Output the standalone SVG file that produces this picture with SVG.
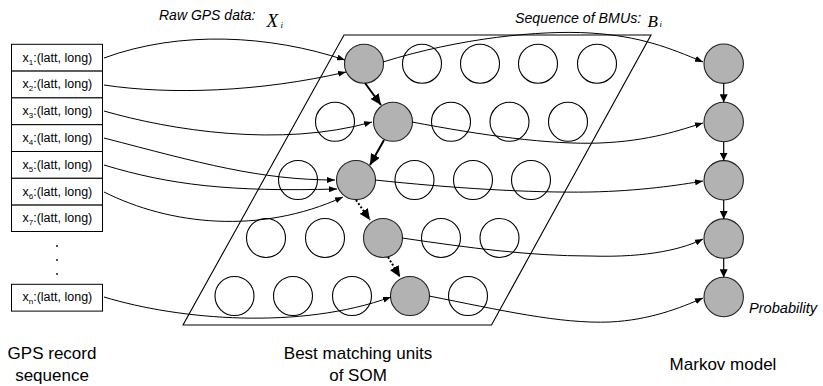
<svg xmlns="http://www.w3.org/2000/svg" width="823" height="386" viewBox="0 0 823 386">
  <defs>
    <marker id="tip" viewBox="0 0 8 6" refX="8" refY="3" markerWidth="8" markerHeight="6" markerUnits="userSpaceOnUse" orient="auto">
      <path d="M0,0 L8,3 L0,6 z" fill="#000"/>
    </marker>
    <marker id="tipBig" viewBox="0 0 11 10" refX="11" refY="5" markerWidth="11" markerHeight="10" markerUnits="userSpaceOnUse" orient="auto">
      <path d="M0,0 L11,5 L0,10 z" fill="#000"/>
    </marker>
    <marker id="tipDown" viewBox="0 0 8 8" refX="8" refY="4" markerWidth="8" markerHeight="8" markerUnits="userSpaceOnUse" orient="auto">
      <path d="M0,0 L8,4 L0,8 z" fill="#000"/>
    </marker>
  </defs>
  <style>
    .cell { fill: #fff; stroke: #000; stroke-width: 1; }
    .cellText { font-family: "Liberation Sans", Arial, sans-serif; font-size: 12.5px; fill: #000; }
    .sub { font-size: 8px; }
    .unit { fill: #fff; stroke: #000; stroke-width: 1.1; }
    .bmu { fill: #b2b2b2; stroke: #222; stroke-width: 1.1; }
    .frame { fill: none; stroke: #000; stroke-width: 1.1; }
    .wire { fill: none; stroke: #000; stroke-width: 1; marker-end: url(#tip); }
    .step { fill: none; stroke: #000; stroke-width: 2; marker-end: url(#tipBig); }
    .stepDot { fill: none; stroke: #000; stroke-width: 2; stroke-dasharray: 2 2; marker-end: url(#tipBig); }
    .chain { fill: none; stroke: #000; stroke-width: 1.2; marker-end: url(#tipDown); }
    .title { font-family: "Liberation Sans", Arial, sans-serif; font-style: italic; fill: #000; }
    .math { font-family: "Liberation Serif", "Times New Roman", serif; font-style: italic; fill: #000; }
    .caption { font-family: "Liberation Sans", Arial, sans-serif; font-size: 17px; fill: #000; text-anchor: middle; }
  </style>

  <!-- headings -->
  <g id="heading-raw">
    <text class="title" x="159" y="20" font-size="14">Raw GPS data:</text>
    <text class="math" x="266.5" y="27.3" font-size="19">X</text>
    <text class="math" x="280.5" y="27.5" font-size="9">i</text>
  </g>
  <g id="heading-bmu">
    <text class="title" x="515" y="23" font-size="14.2">Sequence of BMUs:</text>
    <text class="math" x="647.5" y="26.7" font-size="17">B</text>
    <text class="math" x="659.5" y="27.3" font-size="9">i</text>
  </g>

  <!-- GPS record list -->
  <g id="records">
    <rect class="cell" x="11.5" y="44.3" width="91" height="26.8"/>
    <rect class="cell" x="11.5" y="71.1" width="91" height="26.8"/>
    <rect class="cell" x="11.5" y="97.9" width="91" height="26.8"/>
    <rect class="cell" x="11.5" y="124.7" width="91" height="26.8"/>
    <rect class="cell" x="11.5" y="151.5" width="91" height="26.8"/>
    <rect class="cell" x="11.5" y="178.3" width="91" height="26.8"/>
    <rect class="cell" x="11.5" y="205.1" width="91" height="26.4"/>
    <rect class="cell" x="11.5" y="284.3" width="91" height="26.8"/>
    <text class="cellText" x="22.5" y="61.5">x<tspan class="sub" dy="3">1</tspan><tspan dy="-3">:(latt, long)</tspan></text>
    <text class="cellText" x="22.5" y="88.3">x<tspan class="sub" dy="3">2</tspan><tspan dy="-3">:(latt, long)</tspan></text>
    <text class="cellText" x="22.5" y="115.1">x<tspan class="sub" dy="3">3</tspan><tspan dy="-3">:(latt, long)</tspan></text>
    <text class="cellText" x="22.5" y="141.9">x<tspan class="sub" dy="3">4</tspan><tspan dy="-3">:(latt, long)</tspan></text>
    <text class="cellText" x="22.5" y="168.7">x<tspan class="sub" dy="3">5</tspan><tspan dy="-3">:(latt, long)</tspan></text>
    <text class="cellText" x="22.5" y="195.5">x<tspan class="sub" dy="3">6</tspan><tspan dy="-3">:(latt, long)</tspan></text>
    <text class="cellText" x="22.5" y="222.1">x<tspan class="sub" dy="3">7</tspan><tspan dy="-3">:(latt, long)</tspan></text>
    <text class="cellText" x="22.5" y="301.3">x<tspan class="sub" dy="3">n</tspan><tspan dy="-3">:(latt, long)</tspan></text>
    <circle cx="57" cy="246" r="0.9" fill="#000"/>
    <circle cx="57" cy="260" r="0.9" fill="#000"/>
    <circle cx="57" cy="274" r="0.9" fill="#000"/>
  </g>

  <!-- SOM lattice -->
  <g id="som">
    <polygon class="frame" points="344,35 651,35 491.5,325 183,325"/>
    <circle class="bmu" cx="364" cy="63.7" r="19.5"/>
    <circle class="unit" cx="422" cy="63.7" r="19.5"/>
    <circle class="unit" cx="480" cy="63.7" r="19.5"/>
    <circle class="unit" cx="538" cy="63.7" r="19.5"/>
    <circle class="unit" cx="597" cy="63.7" r="19.5"/>

    <circle class="unit" cx="335" cy="121.8" r="19.5"/>
    <circle class="bmu" cx="393" cy="121.8" r="19.5"/>
    <circle class="unit" cx="451" cy="121.8" r="19.5"/>
    <circle class="unit" cx="509.5" cy="121.8" r="19.5"/>
    <circle class="unit" cx="568" cy="121.8" r="19.5"/>

    <circle class="unit" cx="298" cy="180" r="19.5"/>
    <circle class="bmu" cx="356" cy="180" r="19.5"/>
    <circle class="unit" cx="414.5" cy="180" r="19.5"/>
    <circle class="unit" cx="473" cy="180" r="19.5"/>
    <circle class="unit" cx="531" cy="180" r="19.5"/>

    <circle class="unit" cx="266" cy="238" r="19.5"/>
    <circle class="unit" cx="325" cy="238" r="19.5"/>
    <circle class="bmu" cx="383" cy="238" r="19.5"/>
    <circle class="unit" cx="441" cy="238" r="19.5"/>
    <circle class="unit" cx="499.5" cy="238" r="19.5"/>

    <circle class="unit" cx="234.5" cy="296" r="19.5"/>
    <circle class="unit" cx="293" cy="296" r="19.5"/>
    <circle class="unit" cx="352" cy="296" r="19.5"/>
    <circle class="bmu" cx="410" cy="296" r="19.5"/>
    <circle class="unit" cx="468" cy="296" r="19.5"/>
  </g>

  <!-- Markov chain states -->
  <g id="markov">
    <circle class="bmu" cx="723.7" cy="63.7" r="19.7"/>
    <circle class="bmu" cx="723.7" cy="122" r="19.7"/>
    <circle class="bmu" cx="723.7" cy="180.3" r="19.7"/>
    <circle class="bmu" cx="723.7" cy="238.6" r="19.7"/>
    <circle class="bmu" cx="723.7" cy="297" r="19.7"/>
    <text class="title" x="749" y="313" font-size="14.6">Probability</text>
  </g>

  <!-- connectors -->
  <g id="connectors">
    <!-- records to BMUs -->
    <path class="wire" d="M104,58 C180,30 270,35 345,60"/>
    <path class="wire" d="M104,85 C170,95 260,92 346,72"/>
    <path class="wire" d="M104,111 C170,130 280,148 372,122"/>
    <path class="wire" d="M104,138 C200,163 260,180 335,180"/>
    <path class="wire" d="M104,165 C170,185 230,192 337,189"/>
    <path class="wire" d="M104,192 C170,225 260,235 343,197"/>
    <path class="wire" d="M104,297 C180,320 300,330 391,297"/>
    <!-- BMU trajectory -->
    <path class="step" d="M365,83 L381,105"/>
    <path class="step" d="M384,140 L370,165"/>
    <path class="stepDot" d="M356,200 L370,220"/>
    <path class="stepDot" d="M388,257 L400,277"/>
    <!-- BMUs to Markov states -->
    <path class="wire" d="M383,62 C460,38 540,30 590,33 C640,36 670,48 703,62"/>
    <path class="wire" d="M412,122 C480,135 550,145 600,143 C650,141 680,130 703,123"/>
    <path class="wire" d="M375,180 C450,188 530,193 590,192 C640,191 680,185 703,181"/>
    <path class="wire" d="M402,238 C470,248 530,256 590,256 C650,258 685,248 703,239"/>
    <path class="wire" d="M429,296 C500,310 560,324 610,322 C650,320 680,308 703,298"/>
    <!-- state transitions -->
    <path class="chain" d="M723.7,83.4 L723.7,102.3"/>
    <path class="chain" d="M723.7,141.7 L723.7,160.6"/>
    <path class="chain" d="M723.7,200 L723.7,218.9"/>
    <path class="chain" d="M723.7,258.3 L723.7,277.3"/>
  </g>

  <!-- captions -->
  <g id="captions">
    <text class="caption" x="52" y="359">GPS record</text>
    <text class="caption" x="52" y="381">sequence</text>
    <text class="caption" x="358" y="359">Best matching units</text>
    <text class="caption" x="358" y="381">of SOM</text>
    <text class="caption" x="723" y="370">Markov model</text>
  </g>
</svg>
